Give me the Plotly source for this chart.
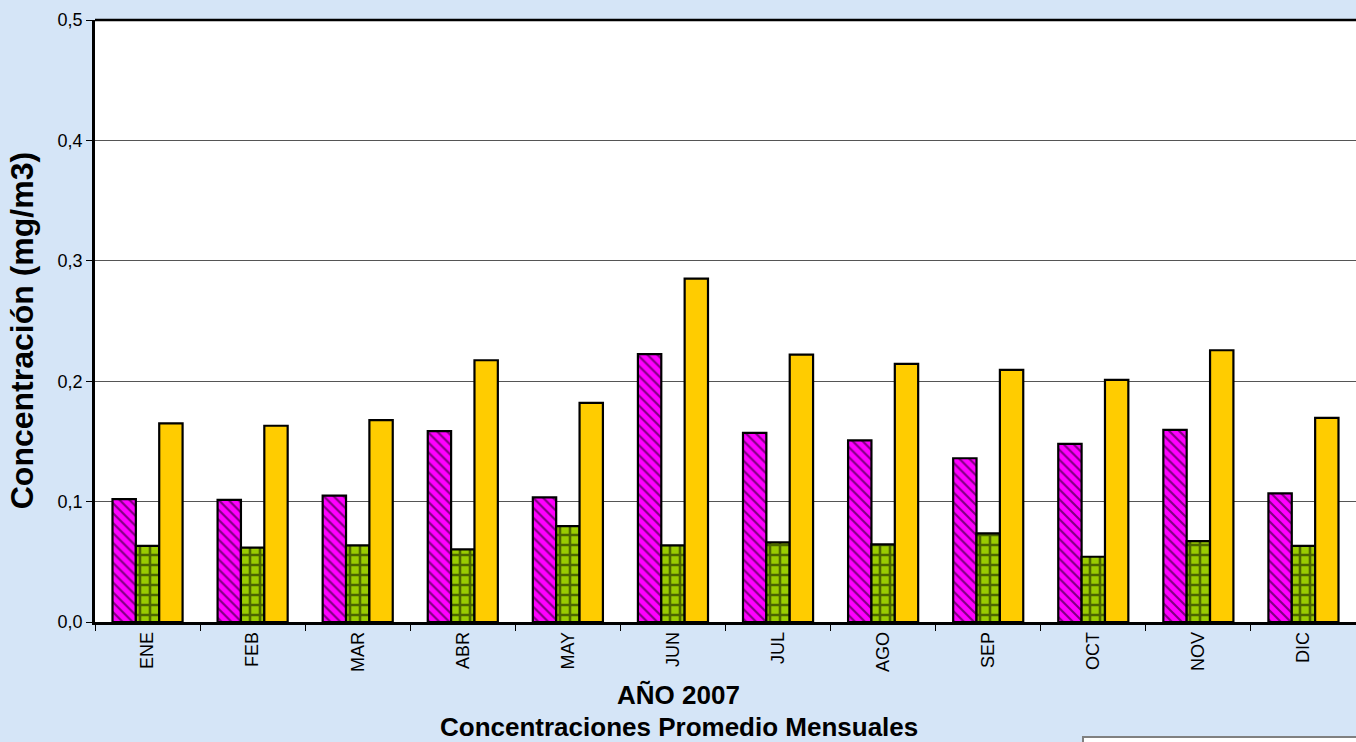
import plotly.graph_objects as go

months = ["ENE", "FEB", "MAR", "ABR", "MAY", "JUN", "JUL", "AGO", "SEP", "OCT", "NOV", "DIC"]
serie_a = [0.102, 0.1015, 0.105, 0.1585, 0.1035, 0.2225, 0.157, 0.1508, 0.136, 0.148, 0.1596, 0.1068]
serie_b = [0.0633, 0.0617, 0.0636, 0.0603, 0.0797, 0.0636, 0.0661, 0.0645, 0.0736, 0.0542, 0.0672, 0.0633]
serie_c = [0.165, 0.163, 0.1676, 0.2174, 0.182, 0.2852, 0.222, 0.2144, 0.2094, 0.2011, 0.2257, 0.1695]
y_ticks = [0.0, 0.1, 0.2, 0.3, 0.4, 0.5]

FONT = "Arial, Liberation Sans, sans-serif"
BG = "#d5e5f7"

fig = go.Figure()
fig.add_trace(go.Bar(
    x=months, y=serie_a, name="Serie A",
    marker=dict(color="#FF00FF", line=dict(color="black", width=2.2),
                pattern=dict(shape="\\", fillmode="overlay", bgcolor="#FF00FF",
                             fgcolor="black", size=7, solidity=0.3)),
))
fig.add_trace(go.Bar(
    x=months, y=serie_b, name="Serie B",
    marker=dict(color="#99CC00", line=dict(color="black", width=2.2),
                pattern=dict(shape="+", fillmode="overlay", bgcolor="#99CC00",
                             fgcolor="black", size=10, solidity=0.45)),
))
fig.add_trace(go.Bar(
    x=months, y=serie_c, name="Serie C",
    marker=dict(color="#FFCC00", line=dict(color="black", width=2.2)),
))

fig.update_layout(
    width=1356, height=742,
    margin=dict(l=95, r=0, t=20, b=120),
    paper_bgcolor=BG,
    plot_bgcolor="white",
    barmode="group", bargap=0.333, bargroupgap=0,
    showlegend=False,
    separators=",.",
    font=dict(family=FONT, color="black", size=18),
    xaxis=dict(
        type="category", tickangle=-90, tickson="boundaries",
        ticks="outside", ticklen=6, tickcolor="black", tickwidth=1,
        showline=True, linecolor="black", linewidth=2.5,
        showgrid=False, tickfont=dict(size=18, family=FONT),
    ),
    yaxis=dict(
        range=[0, 0.5], tickvals=y_ticks, tickformat=".1f",
        ticks="outside", ticklen=6, tickcolor="black", tickwidth=1,
        showline=True, linecolor="black", linewidth=2.5,
        showgrid=True, gridcolor="#555555", gridwidth=1,
        zeroline=False, tickfont=dict(size=18, family=FONT),
    ),
    shapes=[
        dict(type="line", xref="paper", yref="paper", x0=0, x1=1, y0=1, y1=1,
             line=dict(color="black", width=2.5)),
        dict(type="rect", xref="paper", yref="paper", x0=0.7835, x1=1.1, y0=-0.191, y1=-0.4,
             fillcolor="white", line=dict(color="#808080", width=2)),
    ],
    annotations=[
        dict(text="<b>AÑO 2007</b>", xref="paper", yref="paper", x=0.4631, y=-0.121,
             xanchor="center", yanchor="middle", showarrow=False,
             font=dict(size=26, family=FONT)),
        dict(text="<b>Concentraciones Promedio Mensuales</b>", xref="paper", yref="paper",
             x=0.4631, y=-0.175, xanchor="center", yanchor="middle", showarrow=False,
             font=dict(size=26, family=FONT)),
        dict(text="<b>Concentración (mg/m3)</b>", xref="paper", yref="paper",
             x=-0.0579, y=0.4846, xanchor="center", yanchor="middle", textangle=-90,
             showarrow=False, font=dict(size=32, family=FONT)),
    ],
)

fig.write_html(
    "out.html",
    config={"displayModeBar": False},
    post_script=(
        "document.body.style.margin='0';"
        "document.body.style.overflow='hidden';"
        "document.body.style.background='" + BG + "';"
    ),
)
